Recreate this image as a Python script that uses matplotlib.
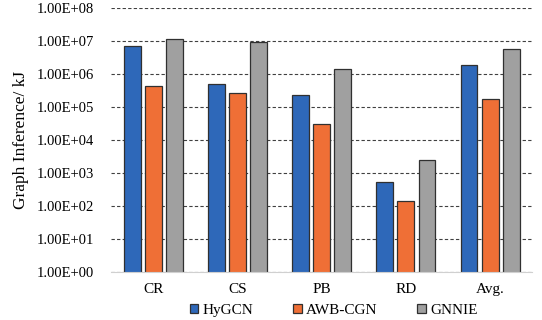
import numpy as np
import matplotlib.pyplot as plt
from matplotlib.ticker import FixedLocator, FuncFormatter

plt.rcParams['font.family'] = ['Liberation Serif', 'DejaVu Serif']

categories = ['CR', 'CS', 'PB', 'RD', 'Avg.']
hygcn = [6.9e6, 4.9e5, 2.3e5, 5.2e2, 1.9e6]
awb_cgn = [4.4e5, 2.6e5, 3.1e4, 1.4e2, 1.75e5]
gnnie = [1.17e7, 9.5e6, 1.4e6, 2.5e3, 5.6e6]

series = [('HyGCN', hygcn, '#2E68B9'),
          ('AWB-CGN', awb_cgn, '#EF6F36'),
          ('GNNIE', gnnie, '#A0A0A0')]

fig = plt.figure(figsize=(5.42, 3.2), dpi=100)
ax = fig.add_axes([0.205, 0.15, 0.777, 0.825])

x = np.arange(len(categories))
w = 0.2
offsets = [-0.25, 0, 0.25]
for (name, vals, col), off in zip(series, offsets):
    ax.bar(x + off, vals, w, color=col, edgecolor='#303030', linewidth=0.9,
           label=name, zorder=3)

ax.set_yscale('log')
ax.set_ylim(1, 1e8)
ax.set_xlim(-0.5, len(categories) - 0.5)
ax.yaxis.set_major_locator(FixedLocator([10.0 ** k for k in range(9)]))
ax.yaxis.set_minor_locator(FixedLocator([]))
ax.yaxis.set_major_formatter(FuncFormatter(lambda v, p: '1.00E+%02d' % round(np.log10(v))))
ax.set_xticks(x)
ax.set_xticklabels(categories, fontsize=11)
ax.tick_params(axis='both', length=0)
ax.tick_params(axis='y', labelsize=10.5, pad=12)
ax.tick_params(axis='x', pad=8)
ax.grid(axis='y', linestyle=(0, (3, 2)), color='#404040', linewidth=0.8, zorder=0)
for s in ['top', 'right', 'left']:
    ax.spines[s].set_visible(False)
ax.spines['bottom'].set_color('#D0D0D0')
ax.spines['bottom'].set_zorder(4)
ax.set_ylabel('Graph Inference/ kJ', fontsize=12.5, labelpad=6)

fig.legend(loc='center', bbox_to_anchor=(0.616, 0.03), ncol=3, frameon=False,
           fontsize=11, handlelength=0.55, handleheight=0.55, handletextpad=0.3,
           columnspacing=2.6)

fig.savefig('out.png', dpi=100)
